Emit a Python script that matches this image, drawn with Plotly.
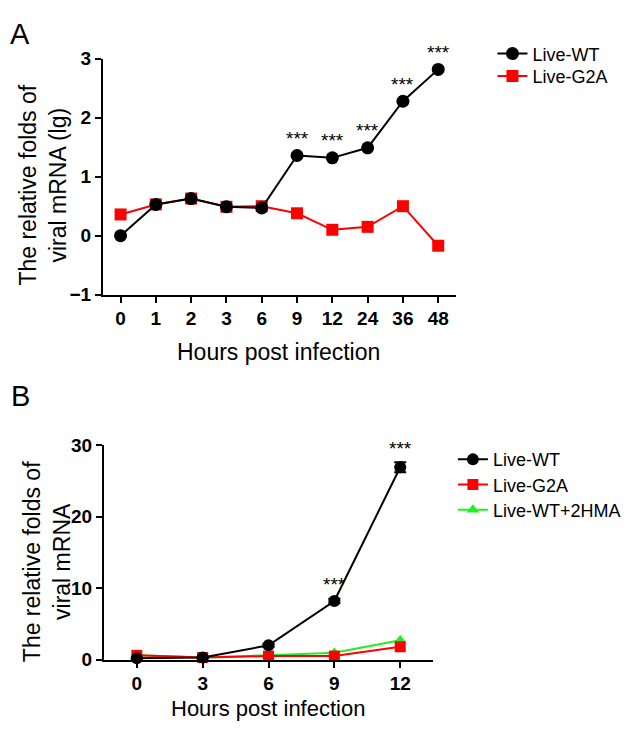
import plotly.graph_objects as go

# ---- Panel A data ----
a_hours = ["0", "1", "2", "3", "6", "9", "12", "24", "36", "48"]
a_wt = [0.0, 0.53, 0.63, 0.49, 0.47, 1.36, 1.32, 1.49, 2.28, 2.82]
a_g2a = [0.36, 0.53, 0.63, 0.49, 0.50, 0.38, 0.10, 0.15, 0.50, -0.17]
a_sig = ["", "", "", "", "", "***", "***", "***", "***", "***"]

# ---- Panel B data ----
b_hours = [0, 3, 6, 9, 12]
b_wt = [0.2, 0.3, 2.0, 8.2, 26.9]
b_wt_err = [0.1, 0.1, 0.2, 0.3, 0.7]
b_g2a = [0.6, 0.3, 0.5, 0.5, 1.8]
b_hma = [0.6, 0.3, 0.6, 0.95, 2.7]
b_sig = ["", "", "", "***", "***"]

OFF = 8  # default page margin of the html body (all sides)
W, H = 634 - 2 * OFF, 733 - 2 * OFF
FONT = "Arial, Liberation Sans, sans-serif"
BLACK, RED, GREEN = "black", "#ff0000", "#22ee22"


def px(x):
    return (x - OFF) / W


def py(y):
    return (H - (y - OFF)) / H


a_idx = list(range(len(a_hours)))

fig = go.Figure()

fig.add_trace(go.Scatter(
    x=a_idx, y=a_g2a, mode="lines+markers", name="Live-G2A",
    line=dict(color=RED, width=2),
    marker=dict(symbol="square", size=12, color=RED),
    xaxis="x", yaxis="y", legend="legend2", cliponaxis=False))
fig.add_trace(go.Scatter(
    x=a_idx, y=a_wt, mode="lines+markers", name="Live-WT",
    line=dict(color=BLACK, width=2),
    marker=dict(symbol="circle", size=13, color=BLACK),
    xaxis="x", yaxis="y", legend="legend", cliponaxis=False))

fig.add_trace(go.Scatter(
    x=b_hours, y=b_hma, mode="lines+markers", name="Live-WT+2HMA",
    line=dict(color=GREEN, width=2),
    marker=dict(symbol="triangle-up", size=11, color=GREEN),
    xaxis="x2", yaxis="y2", legend="legend5", cliponaxis=False))
fig.add_trace(go.Scatter(
    x=b_hours, y=b_g2a, mode="lines+markers", name="Live-G2A",
    line=dict(color=RED, width=2),
    marker=dict(symbol="square", size=11, color=RED),
    xaxis="x2", yaxis="y2", legend="legend4", cliponaxis=False))
fig.add_trace(go.Scatter(
    x=b_hours, y=b_wt, mode="lines+markers", name="Live-WT",
    line=dict(color=BLACK, width=2),
    marker=dict(symbol="circle", size=12, color=BLACK),
    error_y=dict(type="data", array=b_wt_err, color=BLACK, thickness=2, width=6),
    xaxis="x2", yaxis="y2", legend="legend3", cliponaxis=False))

annotations = []
for i, s in enumerate(a_sig):
    if s:
        annotations.append(dict(x=i, y=a_wt[i], xref="x", yref="y", text=s,
                                showarrow=False, yshift=17,
                                font=dict(family=FONT, size=19, color=BLACK)))
for i, s in enumerate(b_sig):
    if s:
        annotations.append(dict(x=b_hours[i], y=b_wt[i] + b_wt_err[i], xref="x2", yref="y2",
                                text=s, showarrow=False, yshift=14,
                                font=dict(family=FONT, size=19, color=BLACK)))

# panel letters
annotations.append(dict(x=px(8), y=py(24), xref="paper", yref="paper", text="A",
                        showarrow=False, xanchor="left", yanchor="middle",
                        font=dict(family=FONT, size=29, color=BLACK)))
annotations.append(dict(x=px(9), y=py(397), xref="paper", yref="paper", text="B",
                        showarrow=False, xanchor="left", yanchor="middle",
                        font=dict(family=FONT, size=29, color=BLACK)))

# axis titles
annotations.append(dict(x=px(43), y=py(180), xref="paper", yref="paper",
                        text="The relative folds of<br>viral mRNA (lg)", textangle=-90,
                        showarrow=False, xanchor="center", yanchor="middle",
                        font=dict(family=FONT, size=23, color=BLACK)))
annotations.append(dict(x=px(282), y=py(352), xref="paper", yref="paper",
                        text="Hours post infection",
                        showarrow=False, xanchor="center", yanchor="middle",
                        font=dict(family=FONT, size=23, color=BLACK)))
annotations.append(dict(x=px(47), y=py(568), xref="paper", yref="paper",
                        text="The relative folds of<br>viral mRNA", textangle=-90,
                        showarrow=False, xanchor="center", yanchor="middle",
                        font=dict(family=FONT, size=23, color=BLACK)))
annotations.append(dict(x=px(271), y=py(719), xref="paper", yref="paper",
                        text="Hours post infection",
                        showarrow=False, xanchor="center", yanchor="middle",
                        font=dict(family=FONT, size=22, color=BLACK)))

axis_common = dict(showline=True, linecolor=BLACK, linewidth=2, showgrid=False,
                   zeroline=False, ticks="outside", ticklen=6, tickwidth=2,
                   tickcolor=BLACK,
                   tickfont=dict(family=FONT, size=19, color=BLACK, weight="bold"))


def leg(text_x, center_y):
    return dict(x=px(text_x - 40), y=py(center_y), xanchor="left", yanchor="middle",
                font=dict(family=FONT, size=18, color=BLACK),
                bgcolor="rgba(0,0,0,0)", borderwidth=0)


fig.update_layout(
    width=W, height=H, margin=dict(l=0, r=0, t=0, b=0),
    paper_bgcolor="white", plot_bgcolor="white",
    xaxis=dict(domain=[px(104), px(461)], range=[-0.5, 9.5], anchor="y",
               tickmode="array", tickvals=a_idx, ticktext=a_hours, **axis_common),
    yaxis=dict(domain=[py(293), py(50)], range=[-1, 3], anchor="x",
               tickmode="array", tickvals=[-1, 0, 1, 2, 3], **axis_common),
    xaxis2=dict(domain=[px(105), px(438)], range=[-1.5, 13.5], anchor="y2",
                tickmode="array", tickvals=b_hours, **axis_common),
    yaxis2=dict(domain=[py(669), py(448)], range=[0, 30], anchor="x2",
                tickmode="array", tickvals=[0, 10, 20, 30], **axis_common),
    legend=leg(538, 45),
    legend2=leg(538, 68),
    legend3=leg(498, 463),
    legend4=leg(498, 489),
    legend5=leg(498, 515),
    annotations=annotations,
    showlegend=True,
)

fig.write_html("out.html")
